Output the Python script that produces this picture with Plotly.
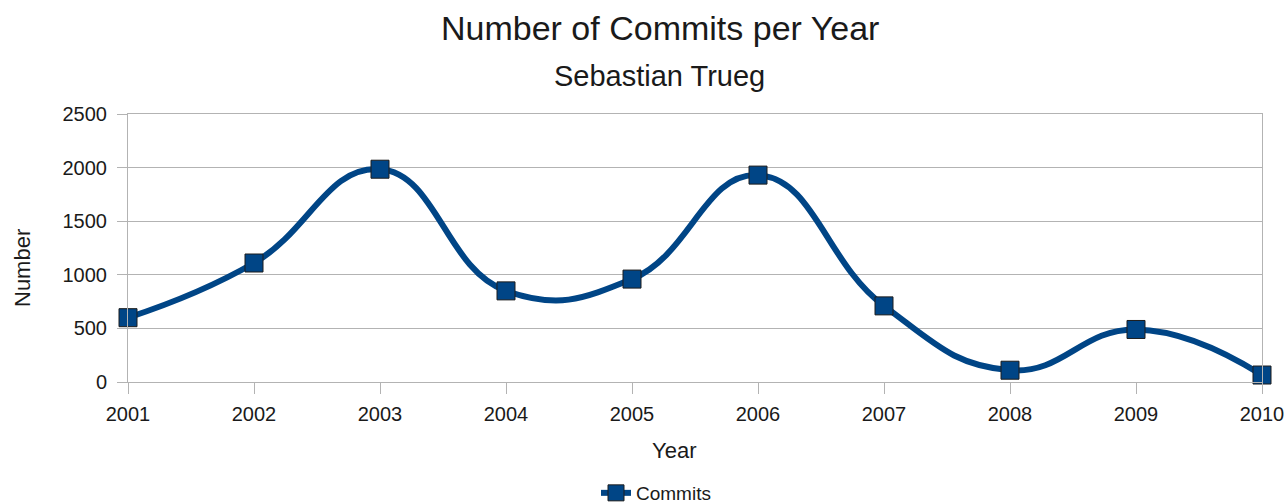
import plotly.graph_objects as go

# Yearly commit counts
years = [2001, 2002, 2003, 2004, 2005, 2006, 2007, 2008, 2009, 2010]
commits = [600, 1110, 1985, 850, 960, 1930, 710, 110, 490, 65]
y_ticks = [0, 500, 1000, 1500, 2000, 2500]

BLUE = "#004586"
GRID = "#b3b3b3"
FONT = "Liberation Sans"

W, H = 1286, 503
L, R, T, B = 128, 24, 114, 121

fig = go.Figure()
fig.add_trace(go.Scatter(
    x=years, y=commits, name="Commits",
    mode="lines+markers",
    line=dict(color=BLUE, width=6, shape="spline", smoothing=1.3),
    marker=dict(symbol="square", size=18, color=BLUE,
                line=dict(color="#1c1c1c", width=1)),
    cliponaxis=False,
))

pw = W - L - R
ph = H - T - B

def px_x(x):
    return (x - L) / pw

def px_y(y):
    return (H - B - y) / ph

fig.update_layout(
    width=W, height=H, autosize=False,
    margin=dict(l=L, r=R, t=T, b=B, pad=0, autoexpand=False),
    paper_bgcolor="white", plot_bgcolor="white",
    font=dict(family=FONT, color="#1a1a1a", size=20),
    showlegend=True,
    legend=dict(orientation="h", xref="container", yref="container",
                x=656 / W, xanchor="center",
                y=1 - 493 / H, yanchor="middle",
                font=dict(size=19), itemwidth=30,
                bgcolor="rgba(0,0,0,0)"),
    xaxis=dict(
        range=[2001, 2010], tickmode="array", tickvals=years,
        ticktext=[str(y) for y in years],
        showgrid=False, zeroline=False, automargin=False,
        showline=True, linecolor=GRID, linewidth=1, mirror=True,
        ticks="outside", ticklen=11, tickcolor=GRID, tickwidth=1,
        ticklabelstandoff=3,
        tickfont=dict(size=20),
    ),
    yaxis=dict(
        range=[0, 2500], tickmode="array", tickvals=y_ticks,
        showgrid=True, gridcolor=GRID, gridwidth=1, zeroline=False,
        automargin=False,
        showline=True, linecolor=GRID, linewidth=1, mirror=True,
        ticks="outside", ticklen=10, tickcolor=GRID, tickwidth=1,
        ticklabelstandoff=6,
        tickfont=dict(size=20),
    ),
    annotations=[
        dict(text="Number of Commits per Year", xref="paper", yref="paper",
             x=px_x(659.5), y=px_y(28), xanchor="center", yanchor="middle",
             showarrow=False, font=dict(size=34)),
        dict(text="Sebastian Trueg", xref="paper", yref="paper",
             x=px_x(659.5), y=px_y(76), xanchor="center", yanchor="middle",
             showarrow=False, font=dict(size=29)),
        dict(text="Year", xref="paper", yref="paper",
             x=px_x(674), y=px_y(450), xanchor="center", yanchor="middle",
             showarrow=False, font=dict(size=22)),
        dict(text="Number", xref="paper", yref="paper",
             x=px_x(22), y=px_y(268), xanchor="center", yanchor="middle",
             textangle=-90, showarrow=False, font=dict(size=22)),
    ],
)

fig.write_html("out.html")
